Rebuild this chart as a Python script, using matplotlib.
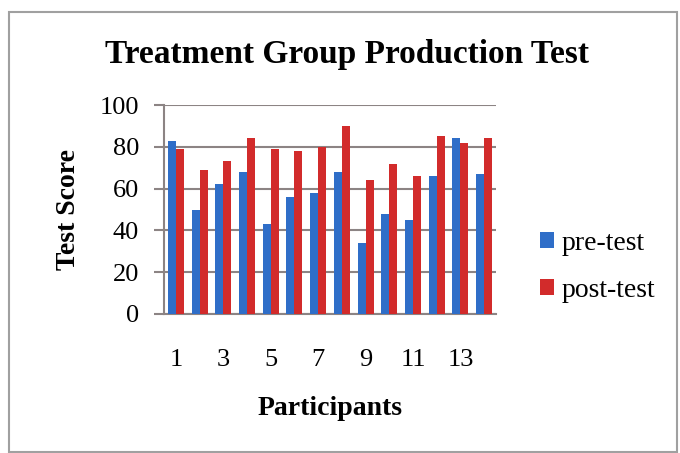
import matplotlib
matplotlib.use("Agg")
import matplotlib.pyplot as plt
import numpy as np
from matplotlib.patches import Rectangle

participants = list(range(1, 15))
pre_test = [83, 50, 62, 68, 43, 56, 58, 68, 34, 48, 45, 66, 84, 67]
post_test = [79, 69, 73, 84, 79, 78, 80, 90, 64, 72, 66, 85, 82, 84]
tick_labels = ["1", "3", "5", "7", "9", "11", "13"]

plt.rcParams['font.family'] = ['Liberation Serif', 'DejaVu Serif']

fig = plt.figure(figsize=(6.8, 4.53), dpi=100)
fig.patch.set_facecolor('white')
fig.add_artist(Rectangle((9/680, 1 - 452/453), (677-9)/680, (452-12)/453,
                         transform=fig.transFigure, fill=False,
                         edgecolor='#a0a0a0', linewidth=1.5))

ax = fig.add_axes([164/680, 1 - 314/453, (496-164)/680, (314-105)/453])
x = np.arange(len(participants))
w = 0.34
ax.bar(x - w/2, pre_test, width=w, color='#2f6ec8', label='pre-test', zorder=3)
ax.bar(x + w/2, post_test, width=w, color='#d22b2b', label='post-test', zorder=3)

ax.set_xlim(-0.5, len(participants) - 0.5)
ax.set_ylim(0, 100)
ax.set_yticks([0, 20, 40, 60, 80, 100])
ax.yaxis.grid(True, color='#8c8484', linewidth=1.5, zorder=0)
ax.set_xticks(x[::2])
ax.set_xticklabels(tick_labels)
ax.tick_params(axis='x', length=0, pad=25, labelsize=19)
ax.tick_params(axis='y', length=7, width=1.5, color='#8c8484', pad=11, labelsize=19)
for s in ['top', 'right']:
    ax.spines[s].set_visible(False)
for s in ['left', 'bottom']:
    ax.spines[s].set_color('#8c8484')
    ax.spines[s].set_linewidth(1.5)

ax.set_ylabel('Test Score', fontsize=20, fontweight='bold', labelpad=13)
ax.set_xlabel('Participants', fontsize=20, fontweight='bold', labelpad=18)
fig.text(347/680, 1 - 55/453, 'Treatment Group Production Test', ha='center', va='center',
         fontsize=24, fontweight='bold')

ax.legend(loc='center left', bbox_to_anchor=(1.1, 0.225), frameon=False, fontsize=20,
          handlelength=0.5, handleheight=0.5, handletextpad=0.25, labelspacing=0.8,
          borderaxespad=0)

fig.savefig('out.png', dpi=100, facecolor='white')
